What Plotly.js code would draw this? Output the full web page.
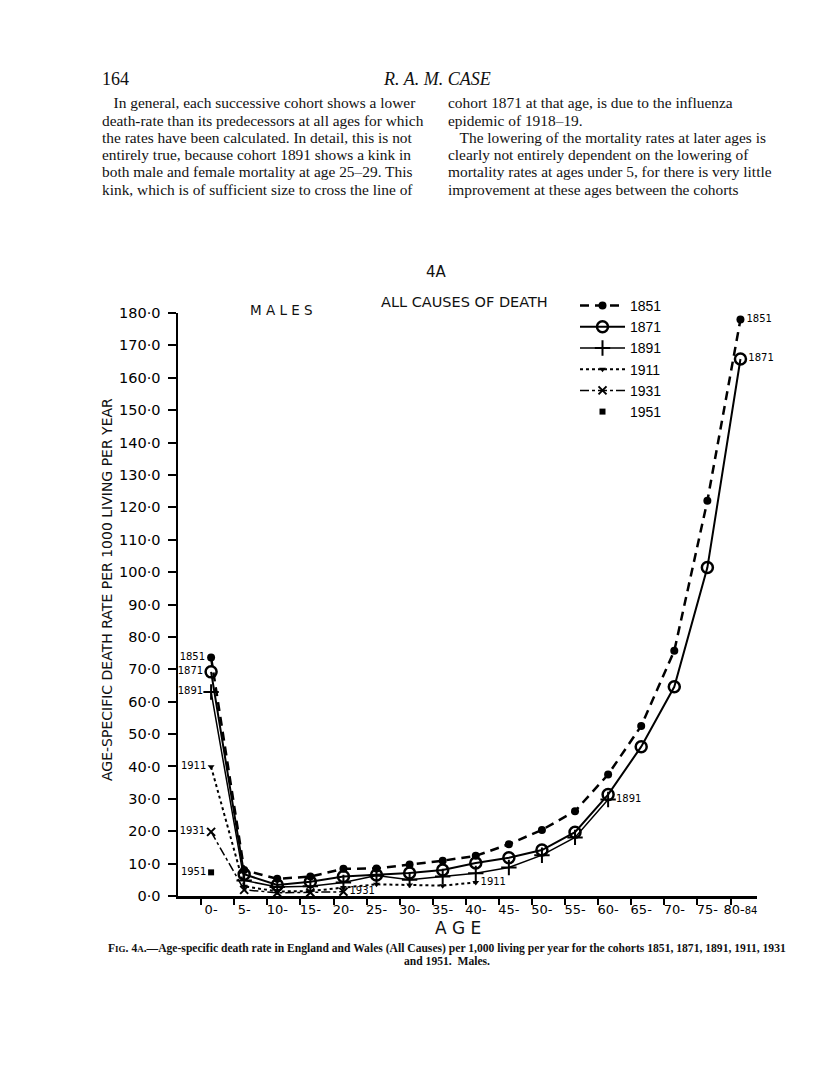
<!DOCTYPE html>
<html>
<head>
<meta charset="utf-8">
<script src="https://cdn.plot.ly/plotly-3.0.1.min.js"></script>
<style>
  html, body { margin: 0; padding: 0; background: #fff; }
  #chart { width: 816px; height: 1090px; }
</style>
</head>
<body>
<div id="chart"></div>
<script>
// Altersgruppen (x-Achse) und Sterberaten je 1000 Lebende pro Jahr, Männer
const ageLabels = ['0-','5-','10-','15-','20-','25-','30-','35-','40-','45-','50-','55-','60-','65-','70-','75-','80-<span style="font-size:10px">84</span>'];
const cohorts = ['1851','1871','1891','1911','1931','1951'];

const rate1851 = [73.6, 8.0, 5.3, 6.0, 8.4, 8.5, 9.7, 10.9, 12.4, 16.0, 20.4, 26.2, 37.5, 52.5, 75.7, 122.0, 178.0];
const rate1871 = [69.2, 6.7, 3.4, 4.4, 6.0, 6.5, 7.1, 8.0, 10.2, 11.8, 14.2, 19.7, 31.3, 46.1, 64.6, 101.4, 165.8];
const rate1891 = [63.0, 4.8, 2.8, 3.0, 4.2, 6.3, 5.0, 6.0, 7.0, 8.8, 12.6, 18.1, 29.8];
const rate1911 = [39.9, 3.0, 1.4, 1.5, 2.6, 3.6, 3.4, 3.2, 4.2];
const rate1931 = [19.8, 1.9, 1.0, 1.1, 1.3];
const rate1951 = [7.3];

const yTicks = [0,10,20,30,40,50,60,70,80,90,100,110,120,130,140,150,160,170,180];

// Plotbereich in Pixeln (für Textpositionen auf der Seite)
const L = 178, R = 757, T = 313, B = 896;
const px = x => (x - L) / (R - L);
const py = y => (B - y) / (B - T);

const sans = 'DejaVu Sans';
const serif = 'Liberation Serif';

// Beschriftung am ersten und/oder letzten Punkt
function endText(arr, name, first, last) {
    return arr.map((v, i) => {
        if (i == 0 && first) return name;
        if (i == arr.length - 1 && last) return name;
        return '';
    });
}
function endPos(arr, lastPos) {
    return arr.map((v, i) => i == 0 ? 'middle left' : lastPos);
}

function mkTrace(arr, name, line, marker, showLast, lastPos) {
    var t = {
        x: arr.map((v, i) => i),
        y: arr,
        name: name,
        type: 'scatter',
        mode: line ? 'lines+markers+text' : 'markers+text',
        marker: marker,
        text: endText(arr, name, true, showLast),
        textposition: endPos(arr, lastPos),
        textfont: {family: sans, size: 10, color: '#000'},
        cliponaxis: false
    };
    if (line) t.line = line;
    return t;
}

var traces = [
    mkTrace(rate1851, cohorts[0], {color: '#000', width: 2.5, dash: '9px,6px'},
        {symbol: 'circle', size: 8, color: '#000'}, true, 'middle right'),
    mkTrace(rate1871, cohorts[1], {color: '#000', width: 2},
        {symbol: 'circle-open', size: 11, color: '#000', line: {width: 2.5, color: '#000'}}, true, 'middle right'),
    mkTrace(rate1891, cohorts[2], {color: '#000', width: 1.5},
        {symbol: 'cross-thin-open', size: 11, color: '#000', line: {width: 2, color: '#000'}}, true, 'middle right'),
    mkTrace(rate1911, cohorts[3], {color: '#000', width: 2, dash: 'dot'},
        {symbol: 'triangle-down', size: 6, color: '#000'}, true, 'middle right'),
    mkTrace(rate1931, cohorts[4], {color: '#000', width: 1.5, dash: 'dashdot'},
        {symbol: 'x-thin-open', size: 8, color: '#000', line: {width: 2, color: '#000'}}, true, 'middle right'),
    mkTrace(rate1951, cohorts[5], null,
        {symbol: 'square', size: 6, color: '#000'}, false, 'middle right')
];

// Seitentext
const leftCol = [
    '   In general, each successive cohort shows a lower',
    'death-rate than its predecessors at all ages for which',
    'the rates have been calculated. In detail, this is not',
    'entirely true, because cohort 1891 shows a kink in',
    'both male and female mortality at age 25–29. This',
    'kink, which is of sufficient size to cross the line of'
];
const rightCol = [
    'cohort 1871 at that age, is due to the influenza',
    'epidemic of 1918–19.',
    '   The lowering of the mortality rates at later ages is',
    'clearly not entirely dependent on the lowering of',
    'mortality rates at ages under 5, for there is very little',
    'improvement at these ages between the cohorts'
];

var annotations = [];
function addText(text, x, y, size, family, xanchor, extra) {
    var a = {
        text: text, xref: 'paper', yref: 'paper', x: px(x), y: py(y),
        xanchor: xanchor || 'left', yanchor: 'middle', showarrow: false,
        font: {family: family, size: size, color: '#111'}
    };
    Object.assign(a, extra || {});
    annotations.push(a);
}

addText('164', 100, 79, 18, serif);
addText('<i>R. A. M. CASE</i>', 437, 79, 18, serif, 'center');
leftCol.forEach((t, i) => addText(t.replace(/^ +/, m => '\u00a0'.repeat(m.length)), 100, 103 + i * 17.2, 15.4, serif));
rightCol.forEach((t, i) => addText(t.replace(/^ +/, m => '\u00a0'.repeat(m.length)), 446, 103 + i * 17.2, 15.4, serif));

addText('4A', 436, 272, 15, sans, 'center');
addText('M A L E S', 281, 310, 13.5, sans, 'center');
addText('ALL CAUSES OF DEATH', 464, 302, 14.5, sans, 'center');
addText('AGE-SPECIFIC DEATH RATE PER 1000 LIVING PER YEAR', 107, 590, 14, sans, 'center', {textangle: -90});
addText('A G E', 458, 928, 17, sans, 'center');
addText('<b>F<span style="font-size:9px">IG</span>. 4<span style="font-size:9px">A</span>.—Age-specific death rate in England and Wales (All Causes) per 1,000 living per year for the cohorts 1851, 1871, 1891, 1911, 1931</b>',
    447, 948, 11.6, serif, 'center');
addText('<b>and 1951.  Males.</b>', 447, 961, 11.6, serif, 'center');

var layout = {
    width: 816,
    height: 1090,
    paper_bgcolor: '#fff',
    plot_bgcolor: '#fff',
    margin: {l: L, r: 816 - R, t: T, b: 1090 - B},
    font: {family: sans, color: '#000'},
    showlegend: true,
    legend: {
        x: px(575), y: py(290), xanchor: 'left', yanchor: 'top',
        font: {family: 'Liberation Sans', size: 14, color: '#000'},
        bgcolor: 'rgba(0,0,0,0)', itemwidth: 45, tracegroupgap: 0
    },
    xaxis: {
        range: [-1.0, 16.5],
        tickmode: 'array',
        tickvals: ageLabels.map((_, i) => i),
        ticktext: ageLabels,
        ticks: '',
        tickfont: {family: sans, size: 13, color: '#000'},
        showgrid: false, zeroline: false,
        showline: true, linecolor: '#000', linewidth: 2.5,
        minor: {
            tickmode: 'array',
            tickvals: ageLabels.map((_, i) => i - 0.3),
            ticks: 'outside', ticklen: 6, tickwidth: 2, tickcolor: '#000', showgrid: false
        }
    },
    yaxis: {
        range: [0, 180],
        tickmode: 'array',
        tickvals: yTicks,
        ticktext: yTicks.map(v => v + '·0'),
        ticks: 'outside', ticklen: 8, tickwidth: 2, tickcolor: '#000',
        ticklabelstandoff: 4,
        tickfont: {family: sans, size: 14.5, color: '#000'},
        showgrid: false, zeroline: false,
        showline: true, linecolor: '#000', linewidth: 2.5
    },
    annotations: annotations
};

Plotly.newPlot('chart', traces, layout, {staticPlot: true});
</script>
</body>
</html>
